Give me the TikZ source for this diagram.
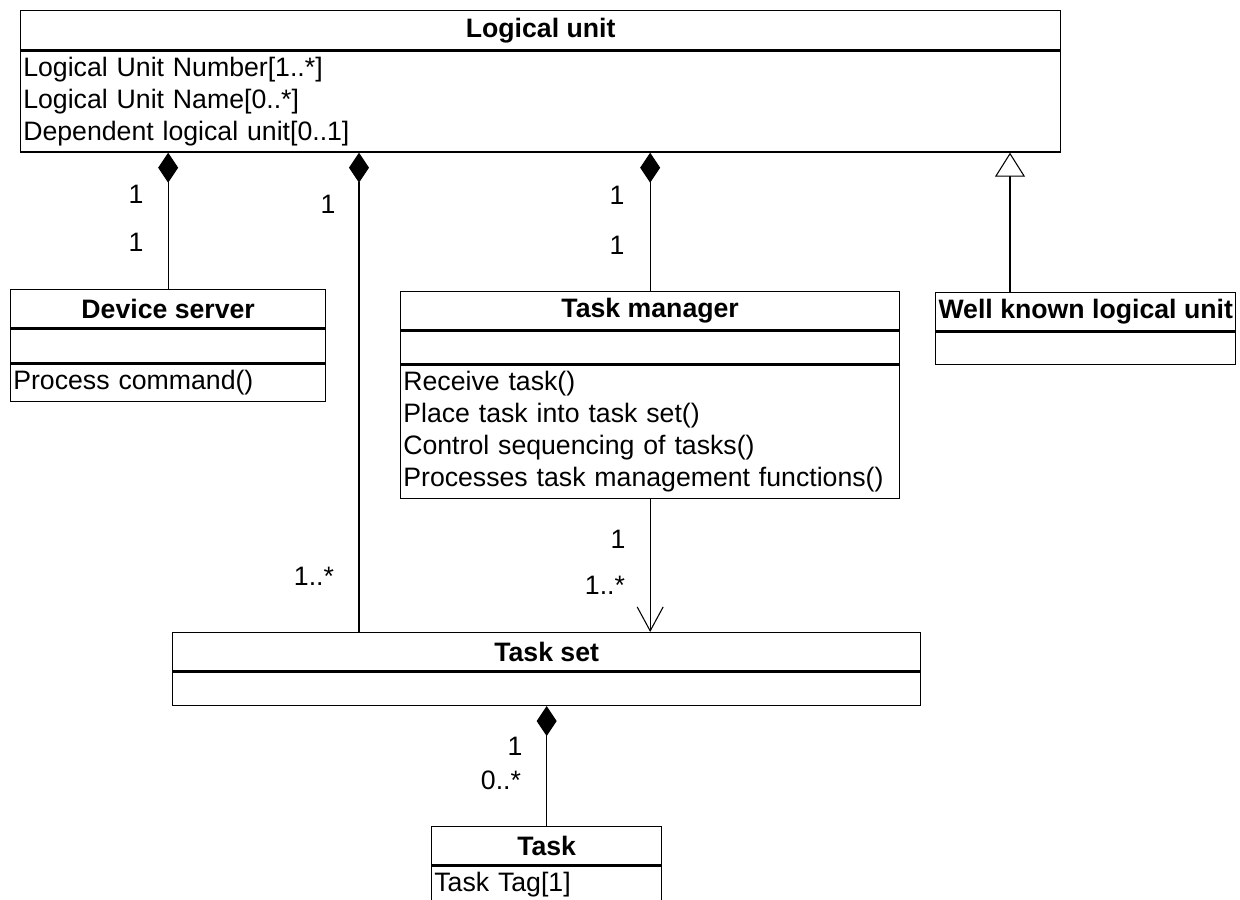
\documentclass[tikz,border=0pt]{standalone}
\usepackage{fontspec}
\setmainfont{Liberation Sans}
\usetikzlibrary{arrows.meta,positioning}

\begin{document}
\begin{tikzpicture}[x=0.375pt,y=-0.375pt,
        clshead/.style={draw,line width=0.5pt,inner sep=0pt,font=\bfseries,minimum height=14.25pt},
        clspart/.style={draw,line width=0.5pt,inner xsep=1pt,inner ysep=0pt,align=left},
        mult/.style={inner sep=0pt},
        comp/.style={line width=0.4pt,-{Diamond[length=11.25pt,width=7.5pt]}},
        gen/.style={line width=0.4pt,-{Triangle[open,fill=white,length=9pt,width=11.25pt]}},
        nav/.style={line width=0.4pt,-{Straight Barb[length=9pt,width=9.75pt]}}]
                \useasboundingbox (0,0) rectangle (1240,899);
                \clip (0,0) rectangle (1240,899);

                \node[clshead,anchor=north west,minimum width=390pt,minimum height=14.625pt] (lu) at (20,10) {Logical unit};
                \node[clspart,below=0pt of lu,text width=388pt,minimum height=37.875pt] (lu-attr) {Logical Unit Number[1..*]\\Logical Unit Name[0..*]\\Dependent logical unit[0..1]};

                \node[clshead,anchor=north west,minimum width=118.125pt] (ds) at (10,289) {Device server};
                \node[clspart,below=0pt of ds,minimum width=118.125pt,minimum height=12.75pt] (ds-attr) {};
                \node[clspart,below=0pt of ds-attr,text width=116.125pt,minimum height=13.875pt] (ds-ops) {Process command()};

                \node[clshead,anchor=north west,minimum width=187.125pt] (tm) at (400,291) {Task manager};
                \node[clspart,below=0pt of tm,minimum width=187.125pt,minimum height=12.375pt] (tm-attr) {};
                \node[clspart,below=0pt of tm-attr,text width=185.125pt,minimum height=49.875pt] (tm-ops) {Receive task()\\Place task into task set()\\Control sequencing of tasks()\\Processes task management functions()};

                \node[clshead,anchor=north west,minimum width=112.5pt] (wk) at (935,292) {Well known logical unit};
                \node[clspart,below=0pt of wk,minimum width=112.5pt,minimum height=12.25pt] (wk-attr) {};

                \node[clshead,anchor=north west,minimum width=280.5pt] (ts) at (172,632) {Task set};
                \node[clspart,below=0pt of ts,minimum width=280.5pt,minimum height=12.5pt] (ts-attr) {};

                \node[clshead,anchor=north west,minimum width=86.25pt] (task) at (431,826) {Task};
                \node[clspart,below=0pt of task,text width=84.25pt,minimum height=14.25pt] (task-attr) {Task Tag[1]};

                \draw[comp] (ds.north) -- (ds.north |- lu-attr.south);
                \draw[comp] (ts.north -| 359,0) -- (lu-attr.south -| 359,0);
                \draw[comp] (tm.north) -- (tm.north |- lu-attr.south);
                \draw[gen] (wk.north -| 1010,0) -- (lu-attr.south -| 1010,0);
                \draw[nav] (tm-ops.south) -- (tm-ops.south |- ts.north);
                \draw[comp] (task.north) -- (task.north |- ts-attr.south);

                \node[mult] (ds-m1) at (136,194) {1};
                \node[mult] (ds-m2) at (136,242) {1};
                \node[mult] (ts-m1) at (328,204) {1};
                \node[mult] (ts-m2) at (314,576) {1..*};
                \node[mult] (tm-m1) at (617,195) {1};
                \node[mult] (tm-m2) at (617,245) {1};
                \node[mult] (tmts-m1) at (618,539) {1};
                \node[mult] (tmts-m2) at (605,585) {1..*};
                \node[mult] (task-m1) at (515,746) {1};
                \node[mult] (task-m2) at (501,780) {0..*};
            \end{tikzpicture}
\end{document}
